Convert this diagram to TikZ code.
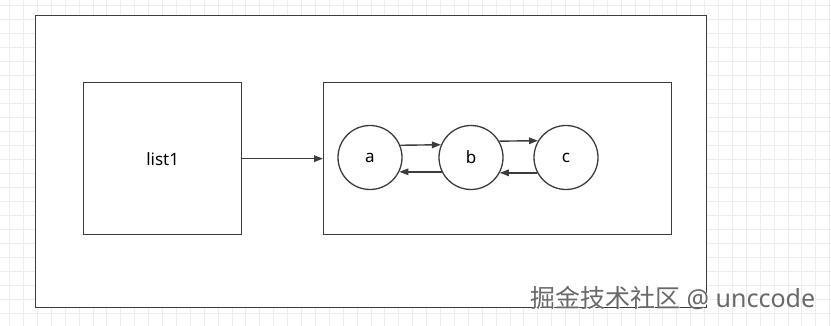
\documentclass[tikz,border=0pt]{standalone}
\usepackage{fontspec}
\setmainfont{Noto Sans}
\newfontfamily\cjkfont{Noto Sans CJK SC}
\usetikzlibrary{arrows.meta}
\definecolor{linec}{RGB}{60,60,60}
\definecolor{gridc}{RGB}{236,236,236}
\definecolor{wmc}{RGB}{105,105,105}
\tikzset{
  boxstyle/.style={draw=linec, line width=1.3pt},
  circstyle/.style={draw=linec, line width=1.3pt, circle, minimum size=64pt, inner sep=0pt, font=\fontsize{17}{20}\selectfont},
  arrowstyle/.style={draw=linec, line width=1.4pt, -{Triangle[length=9pt,width=6.5pt]}},
}
\begin{document}
\begin{tikzpicture}[x=1pt,y=-1pt]
\useasboundingbox (0,0) rectangle (831,326);
\fill[white] (0,0) rectangle (831,326);
% faint grid
\foreach \k in {0,...,59} {
  \draw[gridc, line width=0.8pt] ({9.5+13.9*\k},0) -- ({9.5+13.9*\k},326);
}
\foreach \k in {0,...,23} {
  \draw[gridc, line width=0.8pt] (0,{5+14*\k}) -- (831,{5+14*\k});
}
% outer frame
\node[boxstyle, fill=white, minimum width=671pt, minimum height=292pt, inner sep=0pt, anchor=north west] (outer) at (35,15) {};
% list1 box
\node[boxstyle, minimum width=158pt, minimum height=152pt, inner sep=0pt, anchor=north west, font=\fontsize{17}{20}\selectfont] (list) at (83,82) {list1};
% right box
\node[boxstyle, minimum width=348pt, minimum height=152pt, inner sep=0pt, anchor=north west] (right) at (323,82) {};
% circles
\node[circstyle] (a) at (370,157.5) {a};
\node[circstyle] (b) at (471,157.5) {b};
\node[circstyle] (c) at (566,157.5) {c};
% arrows
\draw[arrowstyle] (list.east) -- (right.west);
\draw[arrowstyle] (a.22.6) -- (b.157.4);
\draw[arrowstyle] (b.206.5) -- (a.-26.5);
\draw[arrowstyle] (b.30.5) -- (c.149.5);
\draw[arrowstyle] (c.208.5) -- (b.-28.5);
% watermark
\node[anchor=base west, inner sep=0pt, text=white, font=\fontsize{25}{28}\selectfont] (wms) at (531.2,308.2) {{\cjkfont 掘金技术社区} @ unccode};
\node[anchor=base west, inner sep=0pt, text=wmc, font=\fontsize{25}{28}\selectfont] (wm) at (530,307) {{\cjkfont 掘金技术社区} @ unccode};
\end{tikzpicture}
\end{document}
